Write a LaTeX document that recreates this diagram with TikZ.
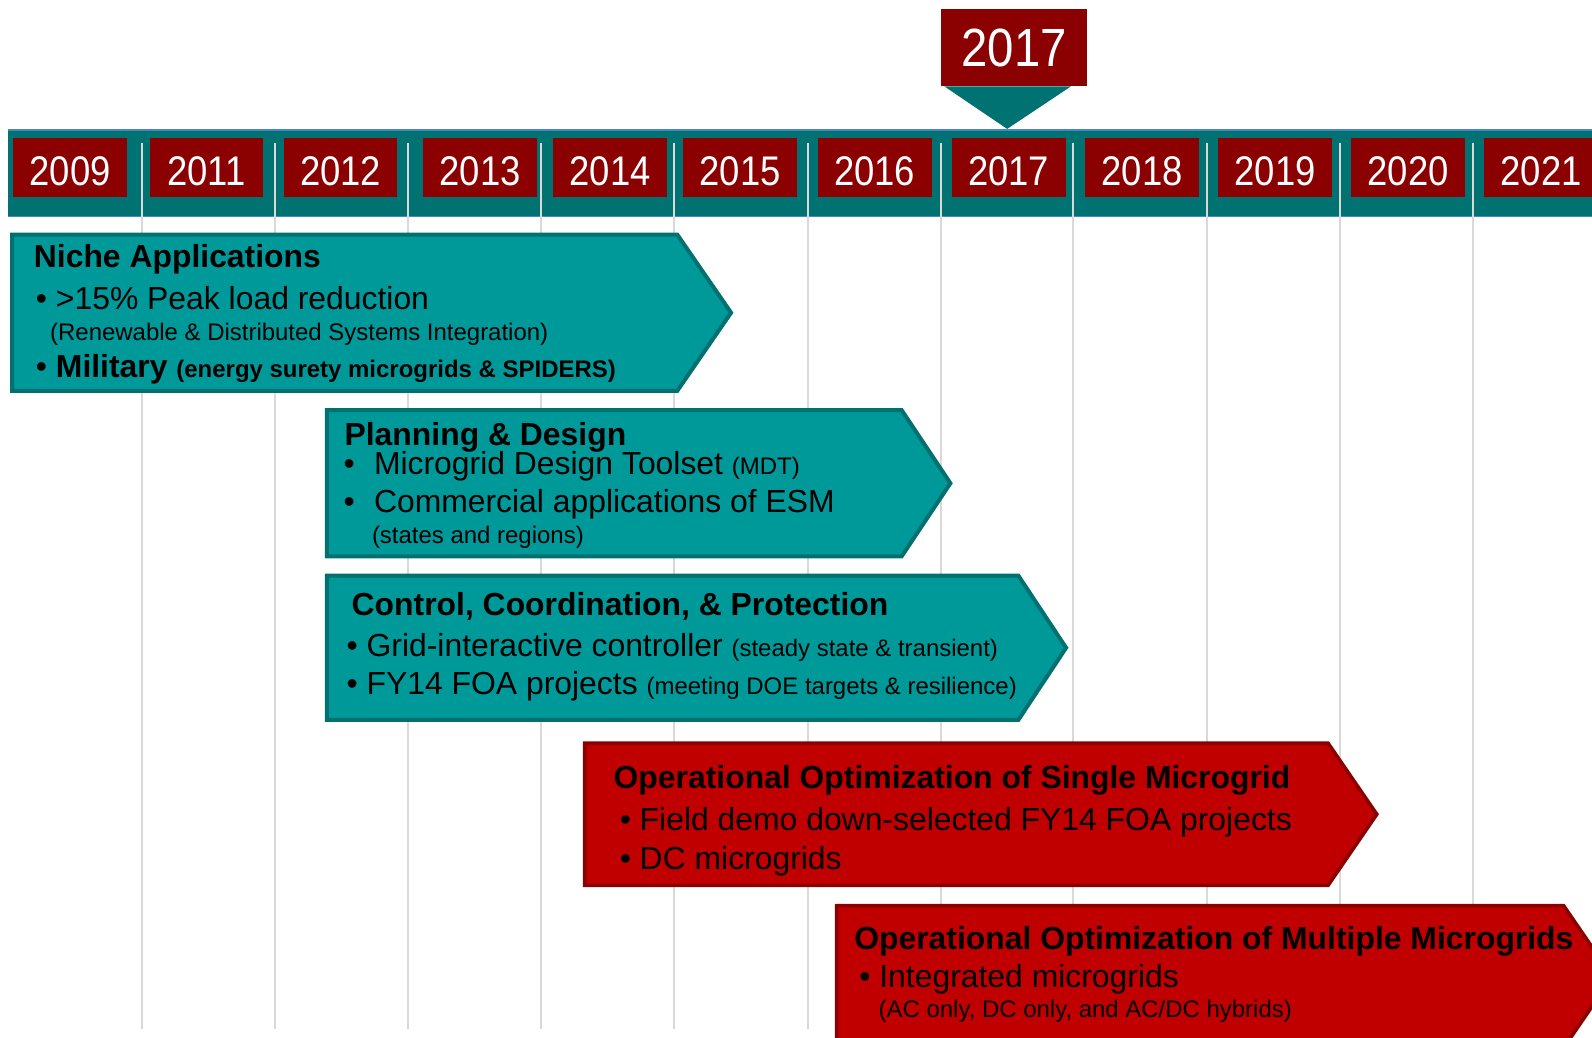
\documentclass[tikz,border=0pt]{standalone}
\usepackage{fontspec}
\setmainfont{Liberation Sans}
\newfontfamily\yearfont[FakeStretch=0.88]{Liberation Sans}
\usepackage{xcolor}
\definecolor{bandteal}{HTML}{007272}
\definecolor{yearred}{HTML}{8B0000}
\definecolor{phaseteal}{HTML}{009999}
\definecolor{phasetealline}{HTML}{007070}
\definecolor{phasered}{HTML}{C00000}
\definecolor{phaseredline}{HTML}{8B0000}
\definecolor{gridgray}{HTML}{D9D9D9}
\definecolor{bandblue}{HTML}{4A86C5}
\tikzset{yearbox/.style={fill=yearred,text=white,minimum width=56pt,minimum height=29pt,inner sep=0pt,font=\yearfont\fontsize{20.4}{22}\selectfont},
         tealphase/.style={fill=phaseteal,draw=phasetealline,line width=2pt},
         redphase/.style={fill=phasered,draw=phaseredline,line width=1.8pt},
         gridline/.style={draw=gridgray,line width=1pt},
         phasetext/.style={anchor=base west,inner sep=0pt,font=\fontsize{15.7}{18}\selectfont},
         phasetitle/.style={phasetext,font=\bfseries\fontsize{15.7}{18}\selectfont}
}
\newcommand{\smallnote}[1]{{\fontsize{11.8}{14}\selectfont #1}}

\begin{document}
\begin{tikzpicture}[x=0.5pt,y=-0.5pt]
\useasboundingbox (0,0) rectangle (1568,1022);
\clip (0,0) rectangle (1568,1022);

% time band
\fill[bandteal] (8,128) rectangle (1568,213);
\draw[bandblue,line width=0.8pt] (8,128) -- (1568,128);
\draw[bandblue,line width=0.5pt] (8,213) -- (1568,213);

% grid
\foreach \x in {140,271,402,533,664,796,927,1057,1189,1320,1451}
  \draw[gridline] (\x,141) -- (\x,1013);

% years
\foreach \yr/\x in {2009/69,2011/203.5,2012/335.5,2013/473,2014/601,2015/729,2016/861.5,2017/993.5,2018/1125,2019/1256,2020/1387,2021/1518}
  \node[yearbox] (y\yr) at (\x,165) {\raisebox{-1.5pt}[\height][0pt]{\yr}};

% current year marker
\fill[bandteal] (930,85) -- (1055,85) -- (992,127) -- cycle;
\node[yearbox,minimum width=72pt,minimum height=38pt,font=\yearfont\fontsize{26.5}{30}\selectfont] (marker) at (999,47) {2017};

% phases
\draw[tealphase] (12,231) -- (667,231) -- (720,308) -- (667,385) -- (12,385) -- cycle;
\draw[tealphase] (322,404) -- (888,404) -- (936,476) -- (888,548) -- (322,548) -- cycle;
\draw[tealphase] (322,567) -- (1003,567) -- (1050,638) -- (1003,709) -- (322,709) -- cycle;
\draw[redphase] (576,732) -- (1308,732) -- (1356,802) -- (1308,872) -- (576,872) -- cycle;
\draw[redphase] (824,892) -- (1540,892) -- (1588,962) -- (1540,1032) -- (824,1032) -- cycle;

\node[phasetitle] (nichetitle) at (33,263) {Niche Applications};
\node[phasetext] (nichea) at (35,305) {• >15\% Peak load reduction};
\node[phasetext] (nicheanote) at (49,335) {\smallnote{(Renewable \& Distributed Systems Integration)}};
\node[phasetext] (nicheb) at (35,372) {• \textbf{Military} \smallnote{\textbf{(energy surety microgrids \& SPIDERS)}}};

\node[phasetitle] (plantitle) at (339,439) {Planning \& Design};
\node[phasetext] (plana) at (338,467) {\makebox[15pt][l]{•}Microgrid Design Toolset \smallnote{(MDT)}};
\node[phasetext] (planb) at (338,505) {\makebox[15pt][l]{•}Commercial applications of ESM};
\node[phasetext] (planbnote) at (366,535) {\smallnote{(states and regions)}};

\node[phasetitle] (ctrltitle) at (346,606) {Control, Coordination, \& Protection};
\node[phasetext] (ctrla) at (341,647) {• Grid-interactive controller \smallnote{(steady state \& transient)}};
\node[phasetext] (ctrlb) at (341,684) {• FY14 FOA projects \smallnote{(meeting DOE targets \& resilience)}};

\node[phasetitle] (singletitle) at (604,777) {Operational Optimization of Single Microgrid};
\node[phasetext] (singlea) at (610,818) {• Field demo down-selected FY14 FOA projects};
\node[phasetext] (singleb) at (610,856) {• DC microgrids};

\node[phasetitle] (multititle) at (841,935) {Operational Optimization of Multiple Microgrids};
\node[phasetext] (multia) at (846,973) {• Integrated microgrids};
\node[phasetext] (multianote) at (865,1002) {\smallnote{(AC only, DC only, and AC/DC hybrids)}};

\end{tikzpicture}
\end{document}
